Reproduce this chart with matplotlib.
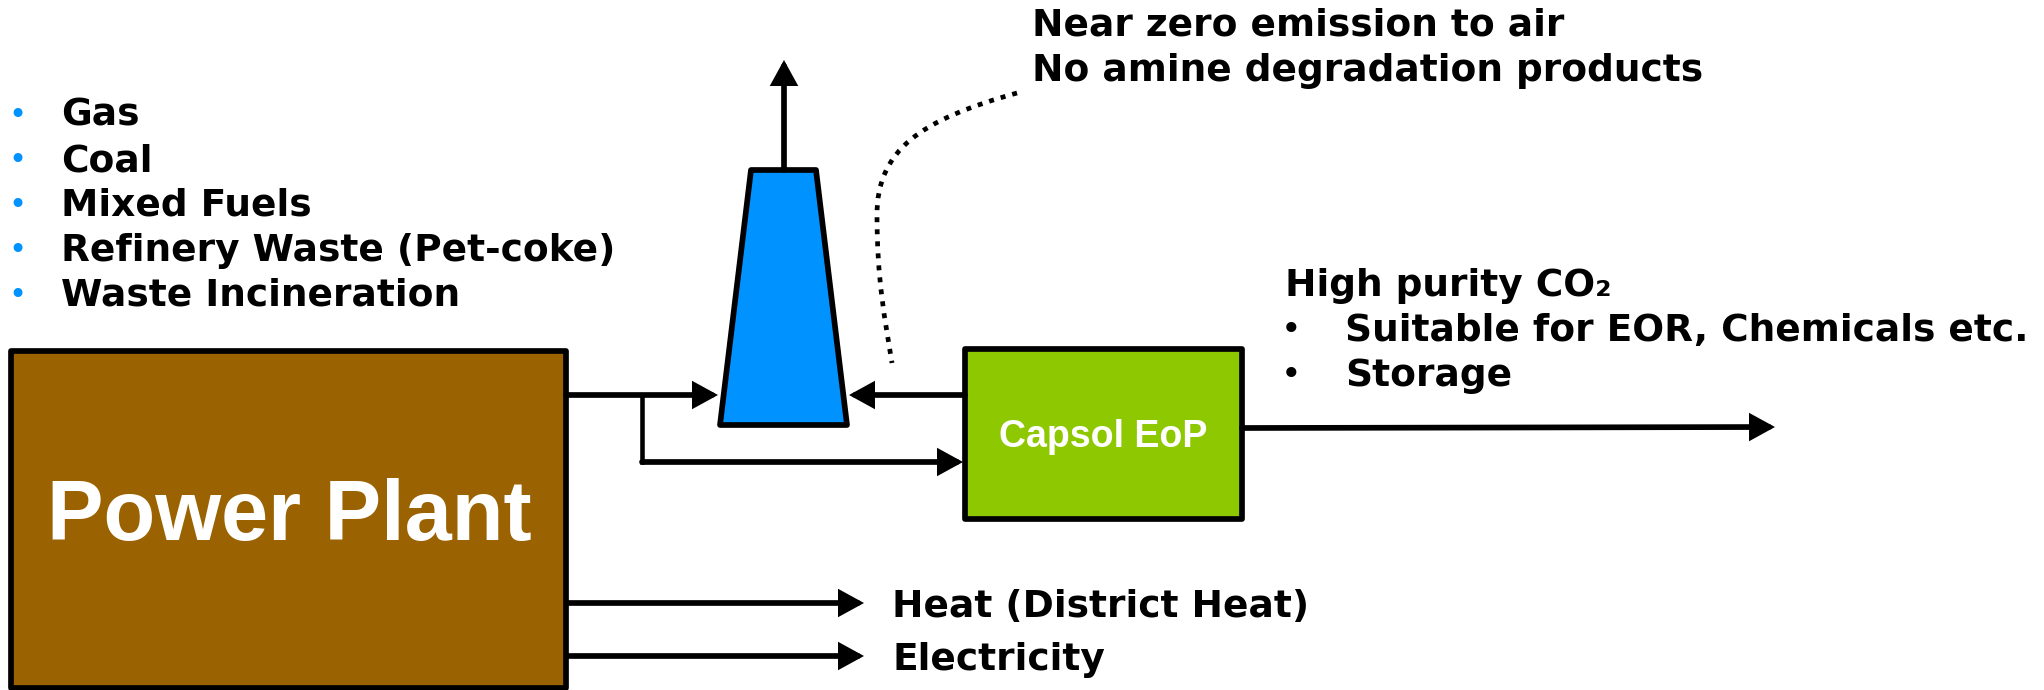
import matplotlib
matplotlib.use("Agg")
import matplotlib.pyplot as plt
from matplotlib.patches import Rectangle, Polygon, PathPatch
from matplotlib.path import Path

# Texto del diagrama
fuels = ["Gas", "Coal", "Mixed Fuels", "Refinery Waste (Pet-coke)", "Waste Incineration"]
emission_notes = ["Near zero emission to air", "No amine degradation products"]
co2_title = "High purity CO\u2082"
co2_uses = ["Suitable for EOR, Chemicals etc.", "Storage"]
plant_outputs = ["Heat (District Heat)", "Electricity"]
plant_label = "Power Plant"
capture_label = "Capsol EoP"

BROWN = "#9a6200"
GREEN = "#8dc800"
BLUE = "#0092ff"
LW = 4.1
BOLD = "DejaVu Sans"
ARIAL = "Liberation Sans"

fig = plt.figure(figsize=(20.44, 6.9), dpi=100)
ax = fig.add_axes([0, 0, 1, 1])
ax.set_xlim(0, 2044)
ax.set_ylim(690, 0)
ax.axis("off")


def arrow(x0, y0, x1, y1):
    ax.annotate("", xy=(x1, y1), xytext=(x0, y0),
                arrowprops=dict(arrowstyle="-|>,head_length=0.62,head_width=0.34",
                                lw=LW, color="black", mutation_scale=20,
                                shrinkA=0, shrinkB=0, joinstyle="miter"))


# Power plant
ax.add_patch(Rectangle((11, 351), 555, 337, facecolor=BROWN, edgecolor="black", lw=LW,
                       joinstyle="round", zorder=2))
ax.text(289, 540, plant_label, ha="center", va="baseline", color="white",
        fontsize=61, fontweight="bold", family=ARIAL, zorder=3)

# Stack
ax.add_patch(Polygon([(751, 170), (816, 170), (847, 425), (720, 425)], closed=True,
                     facecolor=BLUE, edgecolor="black", lw=LW, joinstyle="round", zorder=2))
arrow(784, 170, 784, 60)

# Capsol EoP
ax.add_patch(Rectangle((965, 349), 277, 170, facecolor=GREEN, edgecolor="black", lw=LW,
                       joinstyle="round", zorder=2))
ax.text(1103, 447, capture_label, ha="center", va="baseline", color="white",
        fontsize=27, fontweight="bold", family=ARIAL, zorder=3)

# Flujos
arrow(566, 395, 718, 395)
ax.plot([642, 642], [395, 462], color="black", lw=LW * 0.8, solid_capstyle="projecting")
arrow(642, 462, 963, 462)
arrow(965, 395, 849, 395)
arrow(1242, 428, 1775, 427)
arrow(568, 603, 864, 603)
arrow(568, 656, 864, 656)

# Curva punteada
verts = [(1017, 93), (920, 120), (877, 150), (877, 215), (877, 280), (885, 320), (892, 363)]
codes = [Path.MOVETO] + [Path.CURVE4] * 6
ax.add_patch(PathPatch(Path(verts, codes), fill=False, lw=3.4, edgecolor="black",
                       linestyle=(0, (1.05, 1.5)), capstyle="butt"))

# Combustibles
for i, f in enumerate(fuels):
    y = 126 + i * 45
    ax.text(17, y - 2, "\u2022", ha="center", va="baseline", color=BLUE, fontsize=22, family=BOLD)
    ax.text(61, y, f, ha="left", va="baseline", fontsize=27, fontweight="bold", family=BOLD)

# Notas de emision
for i, t in enumerate(emission_notes):
    ax.text(1032, 35 + i * 46, t, ha="left", va="baseline", fontsize=27, fontweight="bold", family=BOLD)

# CO2
ax.text(1285, 296, co2_title, ha="left", va="baseline", fontsize=27, fontweight="bold", family=BOLD)
for i, t in enumerate(co2_uses):
    y = 341 + i * 45
    ax.text(1291, y - 1, "\u2022", ha="center", va="baseline", fontsize=25, family=BOLD)
    ax.text(1345, y, t, ha="left", va="baseline", fontsize=27, fontweight="bold", family=BOLD)

# Salidas
for i, t in enumerate(plant_outputs):
    ax.text(892, 617 + i * 53, t, ha="left", va="baseline", fontsize=27, fontweight="bold", family=BOLD)

fig.savefig("out.png", dpi=100)
